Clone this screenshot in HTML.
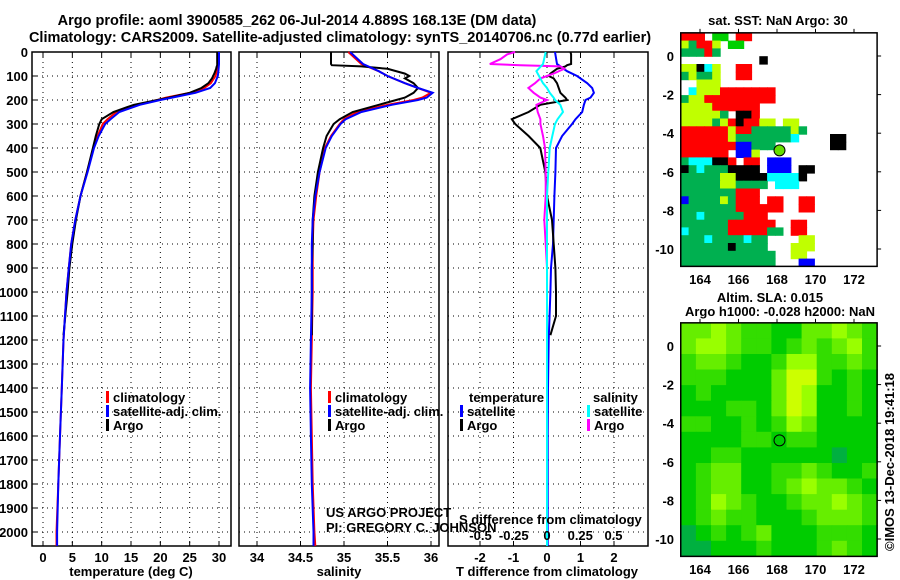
<!DOCTYPE html>
<html><head><meta charset="utf-8"><style>
html,body{margin:0;padding:0;background:#fff;}
svg{display:block;font-family:"Liberation Sans",sans-serif;}
.b{font-weight:bold;font-size:13px;}
</style></head><body>
<svg id="s" width="900" height="580" viewBox="0 0 900 580" xmlns="http://www.w3.org/2000/svg">
<text x="297" y="25" text-anchor="middle" font-weight="bold" font-size="14.5">Argo profile: aoml 3900585_262 06-Jul-2014 4.889S 168.13E (DM data)</text>
<text x="340" y="42" text-anchor="middle" font-weight="bold" font-size="14.5">Climatology: CARS2009. Satellite-adjusted climatology: synTS_20140706.nc (0.77d earlier)</text>
<g id="content"></g>
</svg>
<script>
const depths=[0,50,80,100,130,150,170,190,200,220,250,280,300,350,400,500,600,700,800,900,1000,1200,1400,1600,1800,2000,2058];
const tempClim=[29.8,29.8,29.6,29.4,28.6,27.5,25,21,19.5,16,12.5,11,10.2,9.3,8.6,7.5,6.4,5.5,4.8,4.4,4.0,3.5,3.2,2.9,2.6,2.3,2.3];
const tempSat=[30.0,30.0,29.9,29.8,29.3,28.5,26,22,20,16.5,13,11.5,10.6,9.5,8.7,7.6,6.4,5.5,4.8,4.4,4.0,3.5,3.2,2.9,2.6,2.4,2.4];
const salClim=[35.05,35.2,35.4,35.5,35.7,35.85,36.0,35.9,35.8,35.5,35.15,35.0,34.95,34.85,34.78,34.72,34.68,34.65,34.64,34.64,34.64,34.63,34.62,34.63,34.64,34.66,34.67];
const salSat=[35.07,35.22,35.4,35.5,35.7,35.85,36.02,35.95,35.85,35.55,35.2,35.02,34.96,34.86,34.79,34.72,34.67,34.64,34.63,34.63,34.63,34.62,34.61,34.62,34.63,34.65,34.65];
const dTSat=[0.24,0.3,0.6,0.9,1.2,1.35,1.4,1.3,1.15,1.1,1.05,0.85,0.75,0.45,0.27,0.25,0.22,0.2,0.18,0.12,0.1,0.05,0.03,0.02,0.02,0.02,0.02];
const dSSat=[-0.01,-0.03,-0.08,-0.06,-0.03,0.0,0.02,0.05,0.06,0.1,0.12,0.08,0.06,0.04,0.02,0.01,0.0,0.0,0.0,0.0,0.0,0.0,0.0,0.0,0.0,0.0,0.0];
const argoDepths=[0,10,30,50,55,60,70,90,100,110,130,150,170,190,200,220,250,280,300,350,400,500,600,700,800,900,1000,1100,1180];
const tempArgo=[29.7,29.7,29.7,29.7,29.7,29.6,29.5,29.2,29.0,28.8,28.2,27.0,25,21.5,19.5,15.5,12,10.0,9.6,9.0,8.5,7.5,6.4,5.6,5.0,4.5,4.2,3.8,3.5];
const salArgo=[34.85,34.85,34.85,34.85,34.86,35.2,35.5,35.7,35.75,35.7,35.8,35.85,35.8,35.7,35.6,35.4,35.1,34.95,34.88,34.8,34.76,34.7,34.66,34.64,34.64,34.63,34.63,34.63,34.63];
const dTArgo=[0.7,0.72,0.72,0.72,0.6,0.55,0.3,0.1,0.05,0.2,0.3,0.35,0.4,0.55,0.6,-0.2,-0.55,-1.05,-0.95,-0.55,-0.2,-0.05,0.0,0.15,0.2,0.25,0.27,0.27,0.1];
const dSArgo=[-0.24,-0.3,-0.35,-0.43,-0.2,0.1,0.13,0.05,0.0,-0.05,-0.09,-0.14,-0.1,-0.05,0.0,-0.08,-0.07,-0.05,-0.05,-0.03,-0.015,-0.01,-0.01,-0.02,-0.01,0.0,0.0,0.0,0.0];
const depthTicks=[0,100,200,300,400,500,600,700,800,900,1000,1100,1200,1300,1400,1500,1600,1700,1800,1900,2000];
const tempTicks=[0,5,10,15,20,25,30];
const salTicks=[34,34.5,35,35.5,36];
const salTickLabels=["34","34.5","35","35.5","36"];
const dTTicks=[-2,-1,0,1,2];
const dSTicks=[-0.5,-0.25,0,0.25,0.5];
const dSTickLabels=["-0.5","-0.25","0","0.25","0.5"];
const lonTicks=[164,166,168,170,172];
const latTicks=[0,-2,-4,-6,-8,-10];
const floatLon=168.13, floatLat=-4.889;
const sstGrid=[
"rrr.gg.rr................",
"yGrry.gg.................",
"GGGrG....................",
"..........k..............",
"yykcy..rr................",
"GyGGy..rr................",
"..yyy....................",
".cyyyrrrrrrr.............",
"Gyyrrrrrrrrr.............",
"yyyyrrrrrr...............",
"yyyyyG.kkr...............",
"yyyyGyrkrryy.yy..........",
"rrrrrryrrGGGGGyG.........",
"rrrrrryGGGGGGGc....kk....",
"rrrrrrrbbGGG.......kk....",
"rrrrrr.bby...............",
"Gccckkr.rr.bbb...........",
"kGcGGGkkkk.bbb.kk........",
"GGGGGyykkkkcccck.........",
"GGGGGyyGGGG.ccc..........",
"GGGGGGGrrr...............",
"bGGGGyGrrr.rr..rr........",
"GGGGGGGrrrrrr..rr........",
"GGcGGGGGrrr..............",
"GGGGGGrrrrrr..rr.........",
"cGGGGGrrrrrGG.rr.........",
"GGGcGGGGcGG....yy........",
"GGGGGGkGGGG...yyy........",
"GGGGGGGGGGGG..yy.........",
"GGGGGGGGGGGG...bb........"];
const slaGrid=[
"3343221133432",
"3443221232342",
"2332112442232",
"2221113552121",
"1211113541121",
"1112213541121",
"2211212431111",
"1111221221111",
"1122111111011",
"1233112232112",
"1233112343321",
"1243211233432",
"1232211123332",
"0121231112221",
"0011121112321"];

const NS="http://www.w3.org/2000/svg";
const root=document.getElementById('content');
function mk(tag,attrs,parent){const e=document.createElementNS(NS,tag);for(const k in attrs)e.setAttribute(k,attrs[k]);(parent||root).appendChild(e);return e;}
function txt(x,y,s,anchor,cls,parent){const t=mk('text',{x:x,y:y,'text-anchor':anchor||'middle','class':cls||'b'},parent);t.textContent=s;return t;}
const yD=d=>52+d*0.24;
const TOP=52,BOT=546;
const panels=[
 {x0:32,x1:231,sc:v=>43+v*5.867,name:'temperature-panel'},
 {x0:239,x1:439,sc:v=>257+(v-34)*87,name:'salinity-panel'},
 {x0:448,x1:648,sc:v=>547+v*33.5,name:'difference-panel'}];
const xSd=v=>547+v*133;

panels.forEach((p,i)=>{
 const g=mk('g',{});
 
 
 const grid=mk('g',{stroke:'#000','stroke-width':1,'stroke-dasharray':'1,4'},g);
 
 
 depthTicks.forEach(d=>{mk('line',{x1:p.x0,x2:p.x1,y1:yD(d),y2:yD(d)},grid);});
 const xt=i===0?tempTicks:(i===1?salTicks:dTTicks);
 xt.forEach(v=>{mk('line',{x1:p.sc(v),x2:p.sc(v),y1:TOP,y2:BOT},grid);
   mk('line',{x1:p.sc(v),x2:p.sc(v),y1:BOT,y2:BOT-5,stroke:'#000','stroke-dasharray':'none'},g);
   mk('line',{x1:p.sc(v),x2:p.sc(v),y1:TOP,y2:TOP+5,stroke:'#000','stroke-dasharray':'none'},g);});
 xt.forEach((v,k)=>{const t=txt(p.sc(v),562,i===1?salTickLabels[k]:String(v),'middle','b',g);
   
   });
 const fr=mk('rect',{x:p.x0,y:TOP,width:p.x1-p.x0,height:BOT-TOP,fill:'none',stroke:'#000','stroke-width':1.5},g);
 
 
});
depthTicks.forEach(d=>{const t=txt(28,yD(d)+5,String(d),'end');
 
 
 mk('line',{x1:32,x2:37,y1:yD(d),y2:yD(d),stroke:'#000'});});

function series(xs,ds,sc,color,name){
 const pts=xs.map((v,k)=>sc(v).toFixed(1)+','+yD(ds[k]).toFixed(1)).join(' ');
 const l=mk('polyline',{points:pts,fill:'none',stroke:color,'stroke-width':2});
 
 
}
series(tempClim,depths,panels[0].sc,'#ff0000','temp-climatology-line');
series(tempArgo,argoDepths,panels[0].sc,'#000','temp-argo-line');
series(tempSat,depths,panels[0].sc,'#0000ff','temp-satellite-line');
series(salClim,depths,panels[1].sc,'#ff0000','salinity-climatology-line');
series(salArgo,argoDepths,panels[1].sc,'#000','salinity-argo-line');
series(salSat,depths,panels[1].sc,'#0000ff','salinity-satellite-line');
series(dTSat,depths,panels[2].sc,'#0000ff','tdiff-satellite-line');
series(dTArgo,argoDepths,panels[2].sc,'#000','tdiff-argo-line');
series(dSArgo,argoDepths,xSd,'#ff00ff','sdiff-argo-line');
series(dSSat,depths,xSd,'#00ffff','sdiff-satellite-line');

[[131,'temperature (deg C)'],[339,'salinity'],[547,'T difference from climatology']].forEach(a=>{
 const t=txt(a[0],576,a[1]);
 
 });
function legend(x,y,color,label,name){
 mk('rect',{x:x,y:y-11,width:3,height:12,fill:color});
 const t=txt(x+7,y,label,'start');
 
 }
[106,328].forEach(x=>{legend(x,402,'#ff0000','climatology','legend-climatology');
 legend(x,416,'#0000ff','satellite-adj. clim.','legend-satellite');
 legend(x,430,'#000','Argo','legend-argo');});
let t=txt(469,402,'temperature','start');
t=txt(593,402,'salinity','start');
legend(460,416,'#0000ff','satellite','legend-t-satellite');
legend(460,430,'#000','Argo','legend-t-argo');
legend(587,416,'#00ffff','satellite','legend-s-satellite');
legend(587,430,'#ff00ff','Argo','legend-s-argo');
t=txt(459,524,'S difference from climatology','start');
dSTicks.forEach((v,k)=>{const e=txt(xSd(v),540,dSTickLabels[k]);});
t=txt(326,517,'US ARGO PROJECT','start','');t.setAttribute('font-size','12');
t=txt(326,532,'PI: GREGORY C. JOHNSON','start','');t.setAttribute('font-size','12');

const lx=lon=>700+(lon-164)*19.25;
const sstCol={r:'#ff0000',g:'#00d000',G:'#00b050',y:'#c0ff00',c:'#00ffff',b:'#0000ff',k:'#000000'};
const slaCol=['#00b040','#00cc00','#33dd00','#66ee00','#99ff00','#ccff00'];
function map(y0,grid,cols,name,fillCircle){
 const ly=lat=>y0-lat*19.3;
 const g=mk('g',{});
 
 
 const nc=grid[0].length,nr=grid.length;
 const dlon=10.2/nc,dlat=12.1/nr;
 grid.forEach((row,r)=>{for(let c=0;c<nc;c++){const ch=row[c];const col=cols[ch];if(!col)continue;
  const x=lx(163+c*dlon),y=ly(1.2-r*dlat);
  const cell=mk('rect',{x:x.toFixed(1),y:y.toFixed(1),width:(dlon*19.25+0.6).toFixed(1),height:(dlat*19.3+0.6).toFixed(1),fill:col},g);
  
  }});
 const fr=mk('rect',{x:lx(163),y:ly(1.2),width:lx(173.2)-lx(163),height:ly(-10.9)-ly(1.2),fill:'none',stroke:'#000','stroke-width':1.5},g);
 
 
 latTicks.forEach(v=>{const e=txt(674,ly(v)+5,String(v),'end','b',g);
  mk('line',{x1:lx(173.2),x2:lx(173.2)+4,y1:ly(v),y2:ly(v),stroke:'#000'},g);});
 lonTicks.forEach(v=>{mk('line',{x1:lx(v),x2:lx(v),y1:ly(1.2),y2:ly(1.2)-4,stroke:'#000'},g);});
 const c=mk('circle',{cx:lx(floatLon),cy:ly(floatLat),r:5.5,fill:fillCircle?'#66dd00':'none',stroke:'#000','stroke-width':1},g);
 
 
 return ly;
}
map(56,sstGrid,sstCol,'sst-map',true);
map(346,slaGrid,slaCol,'sla-map',false);
lonTicks.forEach(v=>{let e=txt(lx(v),284,String(v));
 e=txt(lx(v),574,String(v));});
t=txt(778,25,'sat. SST: NaN Argo: 30');
t=txt(770,302,'Altim. SLA: 0.015');
t=txt(780,316,'Argo h1000: -0.028 h2000: NaN');
t=txt(0,0,'©IMOS 13-Dec-2018 19:41:18','middle','');
t.setAttribute('font-size','13');
t.setAttribute('transform','translate(894,462) rotate(-90)');


</script>
</body></html>
